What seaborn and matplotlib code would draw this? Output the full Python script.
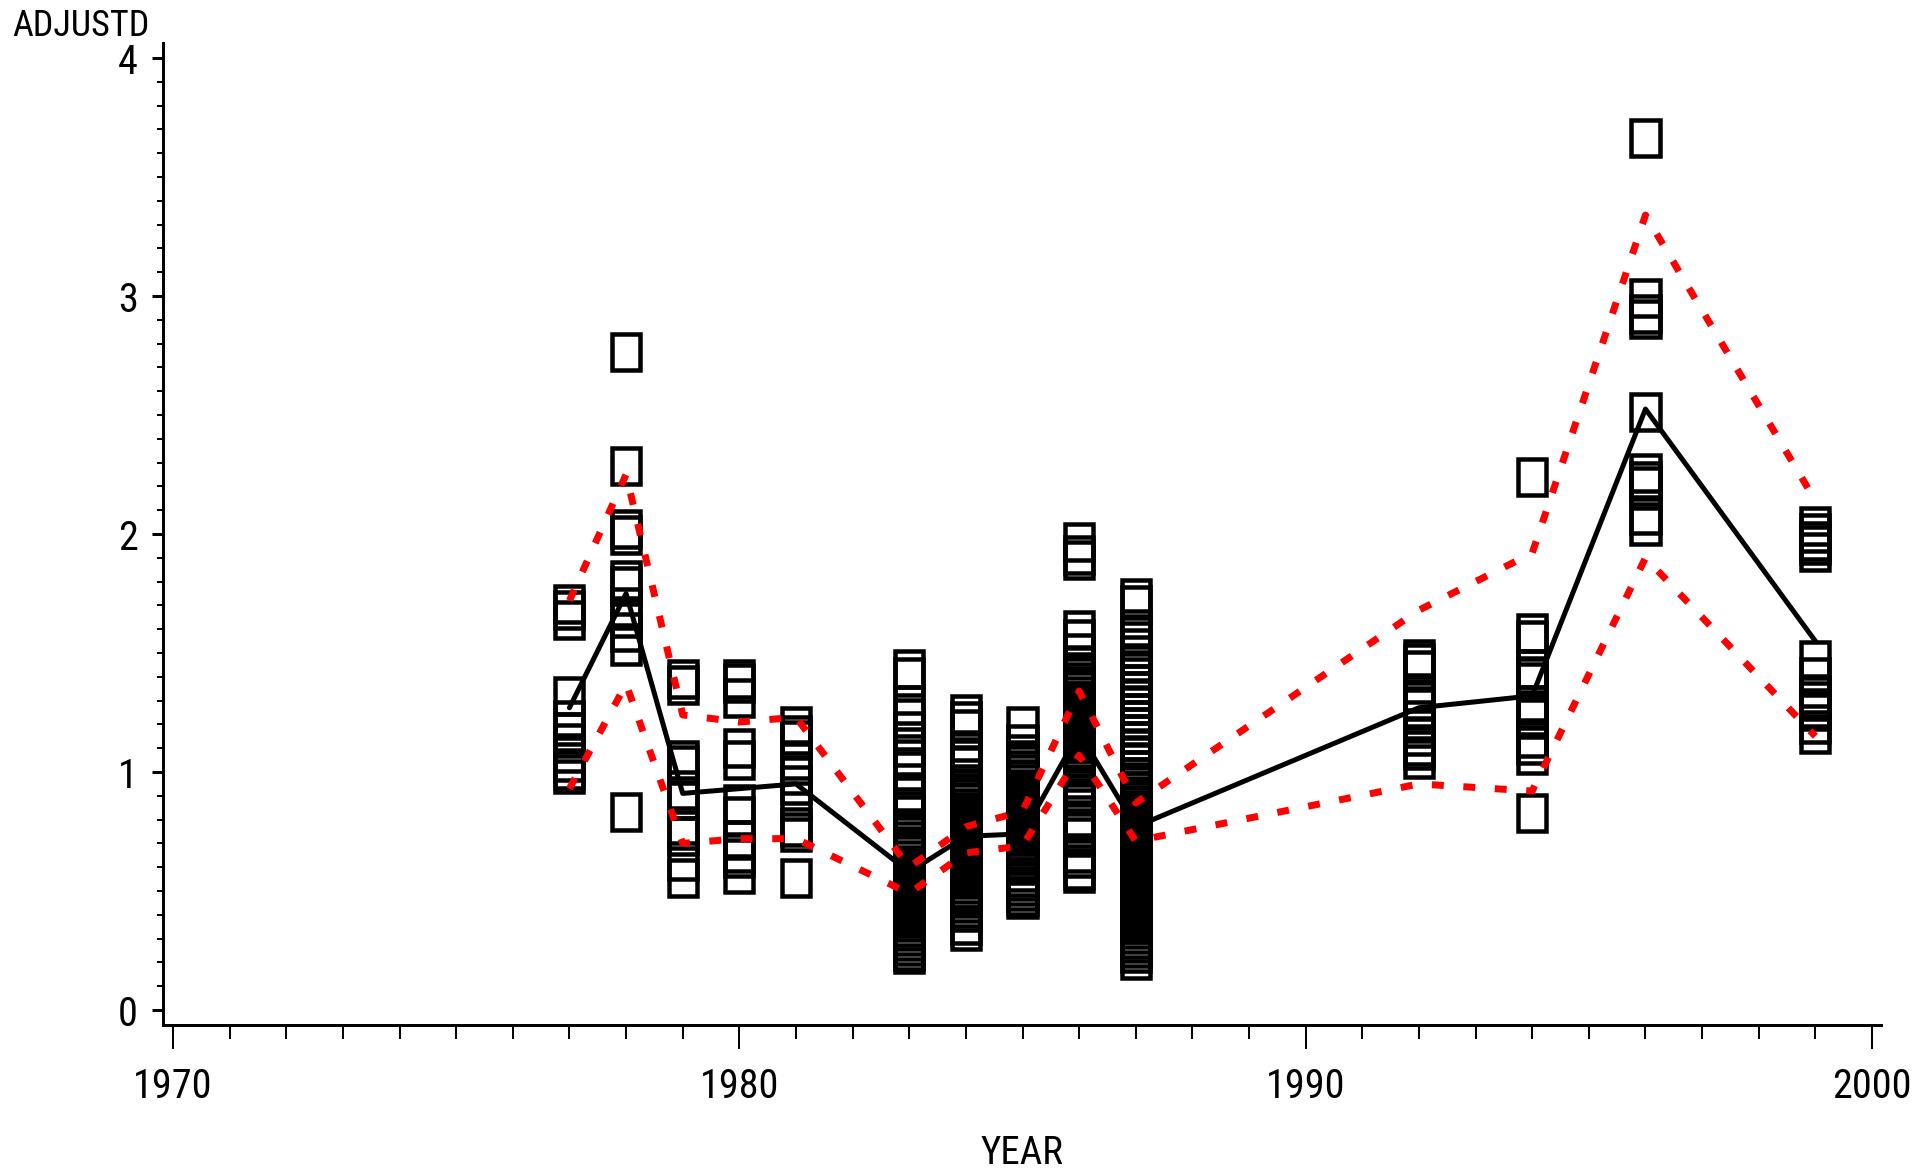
import numpy as np
import pandas as pd
import matplotlib
matplotlib.use("Agg")
import matplotlib.pyplot as plt
from matplotlib.path import Path
from matplotlib.markers import MarkerStyle
from matplotlib.ticker import MultipleLocator, FixedLocator
from matplotlib import font_manager
import seaborn as sns

# ---------------- data ----------------
y1977 = [1.705, 1.68, 1.638, 1.32, 1.22, 1.17, 1.12, 1.08, 1.04, 1.01, 0.99]
y1978 = [2.765, 2.285, 2.023, 1.997, 1.805, 1.783, 1.693, 1.646, 1.587, 1.529, 0.832]
y1979 = [1.391, 1.367, 1.052, 1.031, 0.926, 0.884, 0.758, 0.730, 0.625, 0.555]
y1980 = [1.391, 1.374, 1.311, 1.101, 1.052, 0.867, 0.814, 0.716, 0.660, 0.639, 0.573]
y1981 = [1.195, 1.157, 1.136, 1.052, 0.989, 0.947, 0.877, 0.770, 0.748, 0.555]
y1983 = [1.433, 1.40, 1.283, 1.228, 1.171, 1.106, 1.056, 1.003, 0.916, 0.90, 0.835,
         0.82, 0.75, 0.73, 0.71, 0.69, 0.67, 0.65, 0.63, 0.61, 0.59, 0.57, 0.55,
         0.53, 0.51, 0.49, 0.47, 0.45, 0.43, 0.41, 0.39, 0.37, 0.35, 0.33, 0.31,
         0.29, 0.27, 0.247, 0.236]
y1984 = [1.242, 1.216, 1.18, 1.086, 1.056, 1.026, 0.976, 0.95, 0.93, 0.91, 0.89,
         0.87, 0.85, 0.83, 0.81, 0.79, 0.77, 0.75, 0.73, 0.71, 0.69, 0.67, 0.65,
         0.63, 0.61, 0.59, 0.57, 0.55, 0.53, 0.51, 0.49, 0.47, 0.45, 0.43, 0.41,
         0.357, 0.331]
y1985 = [1.195, 1.116, 1.076, 1.05, 1.03, 1.01, 0.99, 0.97, 0.95, 0.93, 0.91, 0.89,
         0.87, 0.85, 0.83, 0.81, 0.79, 0.77, 0.75, 0.73, 0.71, 0.69, 0.67, 0.65,
         0.63, 0.61, 0.58, 0.56, 0.54, 0.52, 0.50, 0.48, 0.465]
y1986 = [1.965, 1.913, 1.892, 1.598, 1.56, 1.50, 1.45, 1.42, 1.40, 1.38, 1.36, 1.34,
         1.32, 1.30, 1.28, 1.26, 1.24, 1.22, 1.20, 1.18, 1.16, 1.14, 1.12, 1.10,
         1.08, 1.06, 1.04, 1.02, 1.00, 0.97, 0.94, 0.91, 0.88, 0.80, 0.785, 0.765,
         0.75, 0.66, 0.64, 0.59, 0.576]
y1987 = [1.732, 1.70, 1.60, 1.57, 1.52, 1.49, 1.46, 1.43, 1.40, 1.37, 1.34, 1.31,
         1.28, 1.25, 1.22, 1.19, 1.16, 1.13, 1.10, 1.07, 1.04, 1.01, 0.98, 0.96,
         0.94, 0.92, 0.90, 0.88, 0.86, 0.84, 0.82, 0.80, 0.78, 0.76, 0.74, 0.72,
         0.70, 0.68, 0.66, 0.64, 0.62, 0.60, 0.58, 0.56, 0.54, 0.52, 0.50, 0.48,
         0.46, 0.44, 0.42, 0.40, 0.38, 0.36, 0.34, 0.32, 0.30, 0.28, 0.26, 0.24, 0.212]
y1992 = [1.475, 1.458, 1.43, 1.33, 1.30, 1.27, 1.22, 1.185, 1.15, 1.108, 1.094, 1.055]
y1994 = [2.24, 1.584, 1.556, 1.433, 1.40, 1.38, 1.283, 1.26, 1.234, 1.143, 1.115, 1.073, 0.828]
y1996 = [3.664, 2.99, 2.924, 2.905, 2.511, 2.255, 2.224, 2.20, 2.078, 2.033]
y1999 = [2.032, 2.003, 1.97, 1.955, 1.925, 1.47, 1.398, 1.326, 1.30, 1.27, 1.255, 1.20, 1.158]

point_years = [1977, 1978, 1979, 1980, 1981, 1983, 1984, 1985, 1986, 1987, 1992, 1994, 1996, 1999]
point_values = [y1977, y1978, y1979, y1980, y1981, y1983, y1984, y1985, y1986, y1987,
                y1992, y1994, y1996, y1999]

line_years = [1977, 1978, 1979, 1980, 1981, 1983, 1984, 1985, 1986, 1987, 1992, 1994, 1996, 1999]
mean_vals = [1.27, 1.75, 0.91, 0.93, 0.95, 0.58, 0.73, 0.74, 1.165, 0.77, 1.27, 1.32, 2.525, 1.55]
upper_ci = [1.72, 2.25, 1.24, 1.21, 1.23, 0.60, 0.77, 0.835, 1.34, 0.87, 1.68, 1.92, 3.34, 2.14]
lower_ci = [0.93, 1.37, 0.70, 0.72, 0.72, 0.49, 0.66, 0.69, 1.07, 0.71, 0.95, 0.92, 1.90, 1.15]

x_major = [1970, 1980, 1990, 2000]
y_major = [0, 1, 2, 3, 4]

# ---------------- style ----------------
sns.set_style("ticks")

def pick_font(names):
    for n in names:
        try:
            font_manager.findfont(font_manager.FontProperties(family=n), fallback_to_default=False)
            return n
        except Exception:
            continue
    return "DejaVu Sans"

FONT = pick_font(["Liberation Sans Narrow", "Roboto Condensed", "DejaVu Sans"])
plt.rcParams["font.family"] = [FONT, "DejaVu Sans"]

rows = []
for yr, vals in zip(point_years, point_values):
    for v in vals:
        rows.append({"YEAR": yr, "ADJUSTD": v})
df = pd.DataFrame(rows)
lines_df = pd.DataFrame({"YEAR": line_years, "mean": mean_vals,
                         "upper": upper_ci, "lower": lower_ci})

W, H = 1925, 1175
fig = plt.figure(figsize=(W / 100, H / 100), dpi=100)
ax_l, ax_r, ax_b, ax_t = 163, 1881, 1025, 43
ax = fig.add_axes([ax_l / W, 1 - ax_b / H, (ax_r - ax_l) / W, (ax_b - ax_t) / H])

px = 72 / 100  # points per pixel

# rectangular hollow marker (taller than wide)
hw = 0.39
rect = Path([(-hw, -0.5), (hw, -0.5), (hw, 0.5), (-hw, 0.5), (-hw, -0.5)],
            [Path.MOVETO, Path.LINETO, Path.LINETO, Path.LINETO, Path.CLOSEPOLY])
msize = 36 * px

sns.scatterplot(data=df, x="YEAR", y="ADJUSTD", marker=MarkerStyle(rect),
                s=msize ** 2, color="black", facecolor="none", edgecolor="black",
                linewidth=4.5 * px, ax=ax, zorder=2, legend=False)
coll = ax.collections[-1]
coll.set_facecolor("none")
coll.set_edgecolor("black")
coll.set_joinstyle("miter")

sns.lineplot(data=lines_df, x="YEAR", y="mean", color="black", linewidth=5 * px,
             ax=ax, zorder=3, legend=False)
sns.lineplot(data=lines_df, x="YEAR", y="upper", color="#ff0000", linewidth=7 * px,
             linestyle=(0, (1.7, 2.8)), ax=ax, zorder=4, legend=False)
sns.lineplot(data=lines_df, x="YEAR", y="lower", color="#ff0000", linewidth=7 * px,
             linestyle=(0, (1.7, 2.8)), ax=ax, zorder=4, legend=False)

# axis scales: 1970 -> 173 px, 2000 -> 1872 px ; 0 -> 1010 px, 4 -> 58 px
xpp = (1872 - 173) / 30.0
ax.set_xlim(1970 - (173 - ax_l) / xpp, 2000 + (ax_r - 1872) / xpp)
ypp = (1010 - 58) / 4.0
ax.set_ylim(0 - (ax_b - 1010) / ypp, 4 + (58 - ax_t) / ypp)

ax.xaxis.set_major_locator(FixedLocator(x_major))
ax.xaxis.set_minor_locator(MultipleLocator(1))
ax.yaxis.set_major_locator(FixedLocator(y_major))
ax.yaxis.set_minor_locator(MultipleLocator(0.1))
ax.set_xticklabels([str(v) for v in x_major])
ax.set_yticklabels([str(v) for v in y_major])

for s in ["top", "right"]:
    ax.spines[s].set_visible(False)
for s in ["left", "bottom"]:
    ax.spines[s].set_visible(True)
    ax.spines[s].set_color("black")
    ax.spines[s].set_linewidth(3 * px)

ax.tick_params(axis="x", which="both", bottom=True, top=False)
ax.tick_params(axis="y", which="both", left=True, right=False)
ax.tick_params(axis="x", which="major", direction="out", length=24 * px, width=2 * px,
               color="black", pad=18 * px, labelsize=29, labelcolor="black")
ax.tick_params(axis="x", which="minor", direction="out", length=14 * px, width=2 * px,
               color="black")
ax.tick_params(axis="y", which="major", direction="out", length=11 * px, width=3 * px,
               color="black", pad=14 * px, labelsize=29, labelcolor="black")
ax.tick_params(axis="y", which="minor", direction="out", length=6 * px, width=2 * px,
               color="black")
ax.grid(False)

ax.set_xlabel("YEAR", fontsize=28, color="black", va="top")
ax.xaxis.set_label_coords(0.5, (ax_b - 1135) / (ax_b - ax_t))
ax.set_ylabel("ADJUSTD", fontsize=26, color="black", rotation=0, ha="left", va="top")
ax.yaxis.set_label_coords((12 - ax_l) / (ax_r - ax_l), (ax_b - 8) / (ax_b - ax_t))

fig.savefig("out.png", dpi=100, facecolor="white")
